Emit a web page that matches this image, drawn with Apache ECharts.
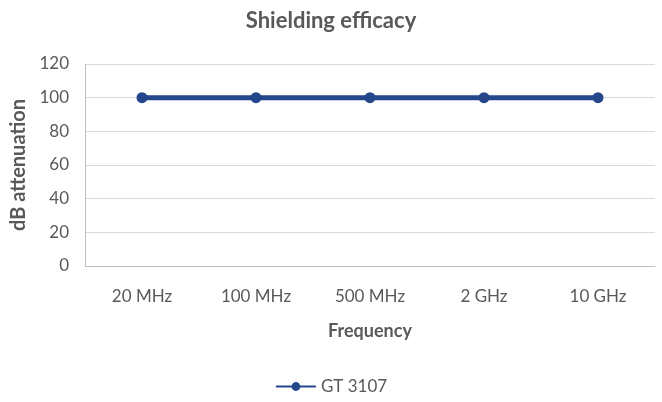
<!DOCTYPE html>
<html>
<head>
<meta charset="utf-8">
<script src="https://cdn.jsdelivr.net/npm/echarts@6/dist/echarts.min.js"></script>
<style>
	html, body { margin: 0; padding: 0; background: #fff; }
	#chart { width: 662px; height: 402px; }
</style>
</head>
<body>
<div id="chart"></div>
<script>
	var categories = ['20 MHz', '100 MHz', '500 MHz', '2 GHz', '10 GHz'];
	var gt3107 = [100, 100, 100, 100, 100];

	var font = 'Lato';
	var grey = '#595959';

	var chart = echarts.init(document.getElementById('chart'));
	chart.setOption({
		animation: false,
		title: {
			text: 'Shielding efficacy',
			left: 'center',
			top: 5,
			textStyle: { fontFamily: font, fontSize: 22, fontWeight: 'bold', color: grey }
		},
		legend: {
			data: ['GT 3107'],
			bottom: 2,
			left: 'center',
			itemWidth: 40,
			itemHeight: 11,
			itemGap: 4,
			textStyle: { fontFamily: font, fontSize: 17, color: grey }
		},
		grid: { left: 85, right: 7, top: 64, bottom: 136 },
		xAxis: {
			type: 'category',
			data: categories,
			name: 'Frequency',
			nameLocation: 'middle',
			nameGap: 56,
			nameTextStyle: { fontFamily: font, fontSize: 18, fontWeight: 'bold', color: grey },
			axisLine: { lineStyle: { color: '#bfbfbf' } },
			axisTick: { show: false },
			axisLabel: { fontFamily: font, fontSize: 17, color: grey, margin: 22 }
		},
		yAxis: {
			type: 'value',
			min: 0,
			max: 120,
			interval: 20,
			name: 'dB attenuation',
			nameLocation: 'middle',
			nameGap: 50,
			nameTextStyle: { fontFamily: font, fontSize: 20, fontWeight: 'bold', color: grey },
			axisLine: { show: true, lineStyle: { color: '#bfbfbf' } },
			axisLabel: { fontFamily: font, fontSize: 17, color: grey, margin: 16 },
			splitLine: { lineStyle: { color: '#d9d9d9' } }
		},
		series: [{
			name: 'GT 3107',
			type: 'line',
			data: gt3107,
			symbol: 'circle',
			symbolSize: 11,
			lineStyle: { width: 5, color: '#24468a' },
			itemStyle: { color: '#24468a' }
		}]
	});
</script>
</body>
</html>
